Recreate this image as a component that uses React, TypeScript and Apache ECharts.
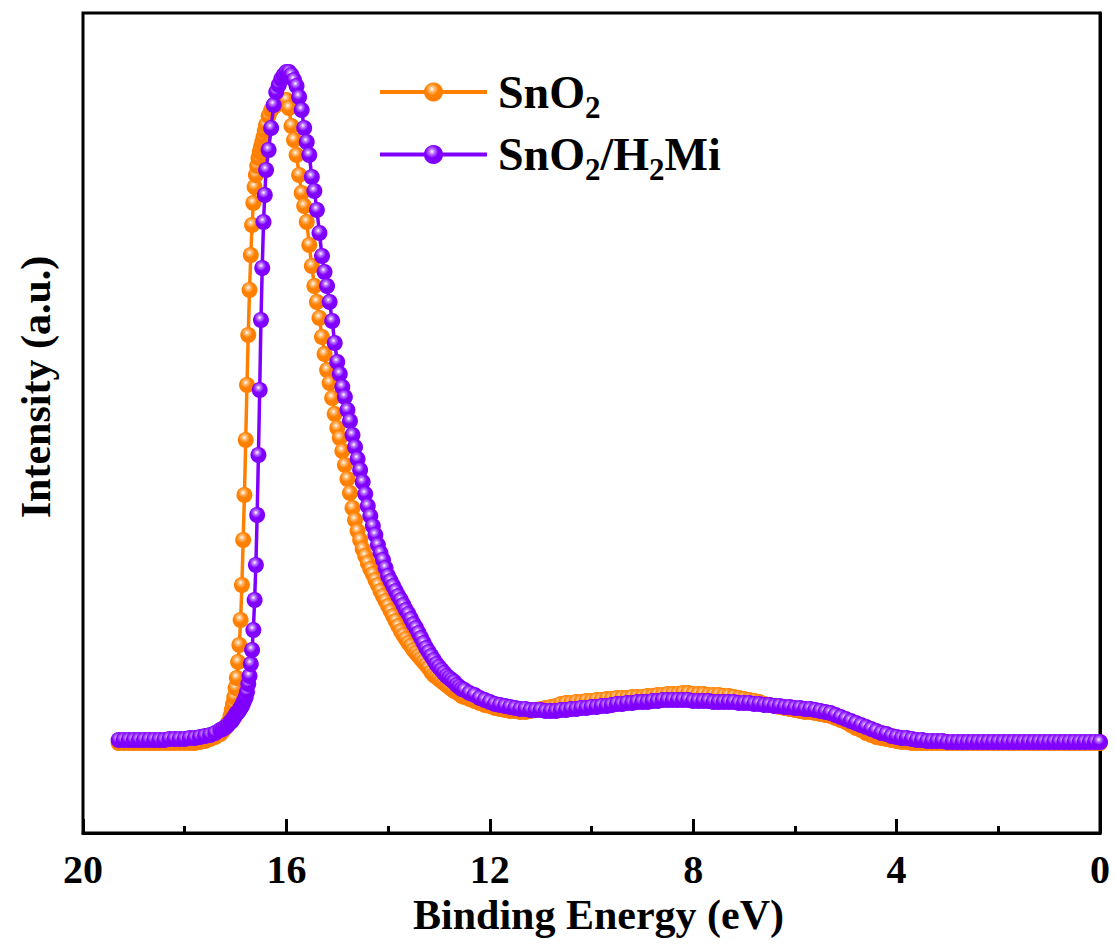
import React, { useEffect, useRef } from "react";
import * as echarts from "echarts";

// Binding energy grid (eV)
const energy = [
  19.3, 19.2, 19.1, 19.0, 18.9, 18.8, 18.7, 18.6, 18.5, 18.4,
  18.3, 18.2, 18.1, 18.0, 17.9, 17.8, 17.7, 17.6, 17.5, 17.4, 17.3,
  17.25, 17.2, 17.15,
  17.1, 17.075, 17.05, 17.025, 17.0, 16.975, 16.95, 16.925, 16.9, 16.875,
  16.85, 16.825, 16.8, 16.775, 16.75, 16.725, 16.7, 16.675, 16.65, 16.625,
  16.6, 16.575, 16.55, 16.525, 16.5, 16.475, 16.45, 16.425, 16.4,
  16.35, 16.3, 16.25, 16.2, 16.15, 16.1, 16.05, 16.0,
  15.95, 15.9, 15.85, 15.8, 15.75, 15.7, 15.65, 15.6, 15.55, 15.5,
  15.45, 15.4, 15.35, 15.3, 15.25, 15.2, 15.15, 15.1, 15.05, 15.0,
  14.95, 14.9, 14.85, 14.8, 14.75, 14.7, 14.65, 14.6, 14.55, 14.5,
  14.45, 14.4, 14.35, 14.3, 14.25, 14.2, 14.15, 14.1, 14.05, 14.0,
  13.95, 13.9, 13.85, 13.8, 13.75, 13.7, 13.65, 13.6, 13.55, 13.5,
  13.45, 13.4, 13.35, 13.3, 13.25, 13.2, 13.15, 13.1, 13.05, 13.0,
  12.95, 12.9, 12.85, 12.8, 12.75, 12.7, 12.65, 12.6, 12.55, 12.5,
  12.4, 12.3, 12.2, 12.1, 12.0, 11.9, 11.8, 11.7, 11.6, 11.5,
  11.4, 11.3, 11.2, 11.1, 11.0, 10.9, 10.8, 10.7, 10.6, 10.5,
  10.4, 10.3, 10.2, 10.1, 10.0, 9.9, 9.8, 9.7, 9.6, 9.5,
  9.4, 9.3, 9.2, 9.1, 9.0, 8.9, 8.8, 8.7, 8.6, 8.5,
  8.4, 8.3, 8.2, 8.1, 8.0, 7.9, 7.8, 7.7, 7.6, 7.5,
  7.4, 7.3, 7.2, 7.1, 7.0, 6.9, 6.8, 6.7, 6.6, 6.5,
  6.4, 6.3, 6.2, 6.1, 6.0, 5.9, 5.8, 5.7, 5.6, 5.5,
  5.4, 5.3, 5.2, 5.1, 5.0, 4.9, 4.8, 4.7, 4.6, 4.5,
  4.4, 4.3, 4.2, 4.1, 4.0, 3.9, 3.8, 3.7, 3.6, 3.5,
  3.4, 3.3, 3.2, 3.1, 3.0, 2.9, 2.8, 2.7, 2.6, 2.5,
  2.4, 2.3, 2.2, 2.1, 2.0, 1.9, 1.8, 1.7, 1.6, 1.5,
  1.4, 1.3, 1.2, 1.1, 1.0, 0.9, 0.8, 0.7, 0.6, 0.5,
  0.4, 0.3, 0.2, 0.1, 0.0,
];

// SnO2 intensity (a.u.)
const sno2 = [
  90, 90, 90, 90, 90, 90, 90, 90, 90, 90,
  90, 90, 90, 90, 90, 90, 91, 92, 94, 96, 99,
  102, 105, 110,
  117, 123, 129, 136, 145, 155, 171, 188, 213, 248,
  293, 338, 393, 448, 498, 543, 578, 608, 630, 646,
  658, 667, 675, 681, 686, 691, 696, 702, 708,
  717, 723, 726, 728, 730, 731, 733, 733,
  725, 707, 693, 678, 658, 640, 627, 611, 588, 567,
  547, 531, 515, 496, 479, 463, 450, 435, 419, 405,
  395, 382, 368, 354, 340, 325, 313, 302, 293, 284,
  277, 270, 264, 259, 253, 248, 242, 237, 232, 227,
  222, 217, 212, 207, 202, 198, 194, 190, 187, 183,
  180, 177, 174, 171, 168, 165, 161, 158, 156, 154,
  152, 150, 148, 146, 144, 142, 141, 139, 137, 136,
  134, 132, 130, 128, 127, 125, 124, 123, 122, 122,
  121, 121, 122, 123, 124, 125, 126, 127, 129, 130,
  130, 131, 131, 132, 132, 133, 133, 134, 134, 135,
  135, 135, 136, 136, 136, 137, 137, 138, 138, 139,
  139, 139, 140, 140, 139, 139, 139, 138, 138, 138,
  137, 137, 136, 135, 134, 133, 132, 131, 129, 128,
  127, 126, 125, 124, 123, 122, 121, 121, 120, 119,
  118, 117, 115, 113, 111, 108, 105, 103, 100, 98,
  96, 95, 94, 93, 92, 91, 91, 90, 90, 90,
  90, 90, 90, 90, 90, 90, 90, 90, 90, 90,
  90, 90, 90, 90, 90, 90, 90, 90, 90, 90,
  90, 90, 90, 90, 90, 90, 90, 90, 90, 90,
  90, 90, 90, 90, 90,
];

// SnO2/H2Mi intensity (a.u.)
const sno2H2Mi = [
  93, 93, 93, 93, 93, 93, 93, 93, 93, 93,
  94, 94, 94, 94, 95, 95, 96, 97, 98, 100, 103,
  104, 106, 108,
  111, 112, 114, 116, 118, 120, 121, 123, 125, 127,
  130, 133, 136, 141, 149, 157, 169, 183, 203, 233,
  268, 318, 378, 443, 513, 565, 611, 638, 663,
  683, 705, 728, 741, 748, 754, 758, 761,
  761, 758, 753, 747, 736, 723, 705, 691, 678, 656,
  642, 623, 600, 577, 561, 547, 531, 512, 490, 471,
  459, 446, 436, 423, 412, 398, 386, 374, 363, 351,
  339, 327, 317, 307, 298, 288, 280, 273, 265, 257,
  252, 247, 242, 237, 233, 228, 223, 219, 214, 209,
  205, 200, 195, 190, 185, 181, 177, 173, 169, 166,
  163, 160, 157, 155, 153, 151, 148, 146, 144, 143,
  140, 138, 135, 133, 131, 129, 128, 127, 126, 125,
  124, 124, 123, 123, 123, 122, 122, 122, 123, 123,
  124, 124, 125, 125, 126, 126, 127, 127, 128, 129,
  129, 130, 130, 131, 131, 131, 132, 132, 133, 133,
  133, 133, 133, 133, 132, 132, 132, 132, 131, 131,
  131, 131, 131, 130, 130, 130, 129, 129, 128, 128,
  127, 127, 126, 126, 125, 125, 124, 124, 123, 122,
  121, 120, 118, 116, 114, 112, 110, 108, 106, 104,
  102, 100, 99, 97, 96, 95, 95, 94, 93, 93,
  92, 92, 92, 92, 91, 91, 91, 91, 91, 91,
  91, 91, 91, 91, 91, 91, 91, 91, 91, 91,
  91, 91, 91, 91, 91, 91, 91, 91, 91, 91,
  91, 91, 91, 91, 91,
];

const xTickValues = [20, 16, 12, 8, 4, 0];

const FONT = "Liberation Serif";

function ball(base: string, light: string) {
  return {
    type: "radial",
    x: 0.42,
    y: 0.35,
    r: 0.6,
    colorStops: [
      { offset: 0, color: "#ffffff" },
      { offset: 0.22, color: light },
      { offset: 0.55, color: base },
      { offset: 1, color: base },
    ],
  };
}

export default function App() {
  const ref = useRef<HTMLDivElement>(null);
  useEffect(() => {
    if (!ref.current) return;
    const chart = echarts.init(ref.current, null, { renderer: "svg" });
    const orange = "#FF8000";
    const purple = "#8000FF";
    const xMin = xTickValues[xTickValues.length - 1];
    const xMax = xTickValues[0];
    chart.setOption({
      animation: false,
      backgroundColor: "#ffffff",
      grid: {
        left: 83,
        right: 15,
        top: 13,
        bottom: 114,
        show: true,
        borderColor: "#000",
        borderWidth: 3,
      },
      legend: {
        orient: "vertical",
        left: 373,
        top: 64,
        itemWidth: 107,
        itemHeight: 24,
        itemGap: 9,
        data: ["SnO2", "SnO2/H2Mi"],
        lineStyle: { width: 4 },
        formatter: (name: string) =>
          name === "SnO2"
            ? "{n|SnO}{s|2}"
            : "{n|SnO}{s|2}{n|/H}{s|2}{n|Mi}",
        textStyle: {
          padding: [0, 0, 0, 6],
          rich: {
            n: { fontFamily: FONT, fontWeight: "bold", fontSize: 46, color: "#000", lineHeight: 50 },
            s: { fontFamily: FONT, fontWeight: "bold", fontSize: 31, color: "#000", padding: [30, 0, 0, 0] },
          },
        },
      },
      xAxis: [
        {
          type: "value",
          min: xMin,
          max: xMax,
          interval: 4,
          inverse: true,
          name: "Binding Energy (eV)",
          nameLocation: "middle",
          nameGap: 55,
          nameTextStyle: {
            fontFamily: FONT,
            fontWeight: "bold",
            fontSize: 42,
            color: "#000",
            padding: [0, 0, 0, 14],
          },
          axisLine: { show: true, lineStyle: { color: "#000", width: 3 } },
          axisTick: { show: true, inside: true, length: 14, lineStyle: { color: "#000", width: 3 } },
          axisLabel: { fontFamily: FONT, fontWeight: "bold", fontSize: 40, color: "#000", margin: 16 },
          splitLine: { show: false },
          z: 5,
        },
        {
          type: "value",
          min: xMin,
          max: xMax,
          interval: 2,
          inverse: true,
          position: "bottom",
          axisLine: { show: false },
          axisTick: { show: true, inside: true, length: 7, lineStyle: { color: "#000", width: 3 } },
          axisLabel: { show: false },
          splitLine: { show: false },
          z: 4,
        },
      ],
      yAxis: {
        type: "value",
        min: 0,
        max: 820,
        name: "Intensity (a.u.)",
        nameLocation: "middle",
        nameGap: 26,
        nameTextStyle: {
          fontFamily: FONT,
          fontWeight: "bold",
          fontSize: 42,
          color: "#000",
          padding: [0, 0, 0, 72],
        },
        axisLine: { show: true, lineStyle: { color: "#000", width: 3 } },
        axisTick: { show: false },
        axisLabel: { show: false },
        splitLine: { show: false },
      },
      series: [
        {
          name: "SnO2",
          type: "line",
          xAxisIndex: 0,
          data: energy.map((e, i) => [e, sno2[i]]),
          symbol: "circle",
          symbolSize: 16,
          showSymbol: true,
          lineStyle: { color: orange, width: 3.5 },
          itemStyle: { color: ball(orange, "#FFBE7A") },
          z: 2,
        },
        {
          name: "SnO2/H2Mi",
          type: "line",
          xAxisIndex: 0,
          data: energy.map((e, i) => [e, sno2H2Mi[i]]),
          symbol: "circle",
          symbolSize: 16,
          showSymbol: true,
          lineStyle: { color: purple, width: 3.5 },
          itemStyle: { color: ball(purple, "#BE7AFF") },
          z: 3,
        },
      ],
    });
    return () => chart.dispose();
  }, []);
  return (
    <div
      ref={ref}
      style={{ position: "absolute", left: 0, top: 0, width: 1115, height: 947 }}
    />
  );
}
